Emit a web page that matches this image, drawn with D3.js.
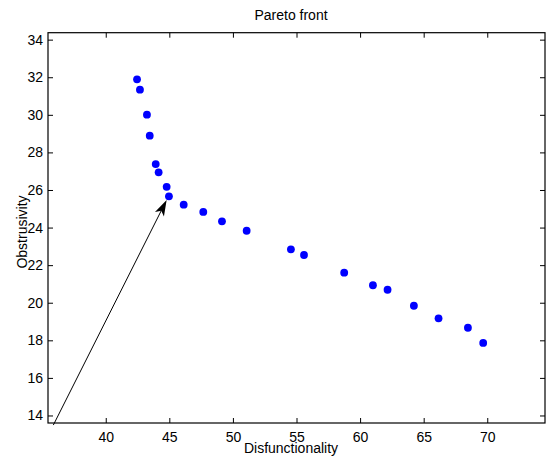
<!DOCTYPE html>
<html>
<head>
<meta charset="utf-8">
<script src="https://cdnjs.cloudflare.com/ajax/libs/d3/7.8.5/d3.min.js"></script>
<style>
  body { margin: 0; background: #fff; }
  text { font-family: "Liberation Sans", Arial, Helvetica, sans-serif; }
  .axis text { font-size: 14px; fill: #000; }
  .axis line { stroke: #000; }
</style>
</head>
<body>
<script>
// pareto front points
var disfunc = [42.46, 42.69, 43.24, 43.46, 43.93, 44.16, 44.79, 44.97, 46.13, 47.67, 49.14, 51.08,
               54.56, 55.59, 58.75, 61.01, 62.16, 64.23, 66.17, 68.48, 69.68];
var obstr = [31.89, 31.34, 30.01, 28.89, 27.38, 26.94, 26.17, 25.66, 25.22, 24.83, 24.33, 23.83,
             22.84, 22.54, 21.60, 20.93, 20.69, 19.84, 19.17, 18.67, 17.86];
var xTicks = [40, 45, 50, 55, 60, 65, 70];
var yTicks = [14, 16, 18, 20, 22, 24, 26, 28, 30, 32, 34];
// arrow annotation: tail -> head
var arrowFrom = [35.88, 13.49];
var arrowTo = [44.79, 25.47];

var w = 547;
var h = 456;
var margin = {top: 32.7, bottom: 33, left: 48, right: 2};

var x = d3.scaleLinear()
        .domain([35.46, 74.54])
        .range([margin.left, w - margin.right]);

var y = d3.scaleLinear()
        .domain([13.6, 34.37])
        .range([h - margin.bottom, margin.top]);

var svg = d3.select("body").append("svg")
          .attr("width", w)
          .attr("height", h);

var pts = disfunc.map(function(d, i){ return {x: d, y: obstr[i]}; });

// ticks pointing inward on all four sides
svg.append("g")
    .attr("class", "axis")
    .attr("transform", "translate(0," + (h - margin.bottom) + ")")
    .call(d3.axisBottom(x).tickValues(xTicks).tickSizeInner(-5).tickSizeOuter(0).tickPadding(9))
    .select(".domain").remove();

svg.append("g")
    .attr("class", "axis")
    .attr("transform", "translate(0," + margin.top + ")")
    .call(d3.axisTop(x).tickValues(xTicks).tickSizeInner(-5).tickSizeOuter(0).tickFormat(""))
    .select(".domain").remove();

svg.append("g")
    .attr("class", "axis")
    .attr("transform", "translate(" + margin.left + ",0)")
    .call(d3.axisLeft(y).tickValues(yTicks).tickSizeInner(-5).tickSizeOuter(0).tickPadding(5))
    .select(".domain").remove();

svg.append("g")
    .attr("class", "axis")
    .attr("transform", "translate(" + (w - margin.right) + ",0)")
    .call(d3.axisRight(y).tickValues(yTicks).tickSizeInner(-5).tickSizeOuter(0).tickFormat(""))
    .select(".domain").remove();

// box
svg.append("rect")
    .attr("x", margin.left)
    .attr("y", margin.top)
    .attr("width", w - margin.left - margin.right)
    .attr("height", h - margin.top - margin.bottom)
    .attr("fill", "none")
    .attr("stroke", "#000")
    .attr("stroke-width", 1.2);

svg.selectAll(".dot")
    .data(pts)
    .enter()
        .append("circle")
        .attr("class", "dot")
        .attr("cx", function(d){ return x(d.x); })
        .attr("cy", function(d){ return y(d.y); })
        .attr("r", 3.9)
        .attr("fill", "#0000ff");

// arrow
var x0 = x(arrowFrom[0]), y0 = y(arrowFrom[1]);
var x1 = x(arrowTo[0]), y1 = y(arrowTo[1]);
var len = Math.sqrt((x1 - x0) * (x1 - x0) + (y1 - y0) * (y1 - y0));
var ux = (x1 - x0) / len, uy = (y1 - y0) / len;
var nx = -uy, ny = ux;
var L = 16, N = 12, hw = 5;

svg.append("line")
    .attr("x1", x0).attr("y1", y0)
    .attr("x2", x1 - ux * N).attr("y2", y1 - uy * N)
    .attr("stroke", "#000")
    .attr("stroke-width", 1);

svg.append("path")
    .attr("d", "M" + x1 + "," + y1 +
               "L" + (x1 - ux * L + nx * hw) + "," + (y1 - uy * L + ny * hw) +
               "L" + (x1 - ux * N) + "," + (y1 - uy * N) +
               "L" + (x1 - ux * L - nx * hw) + "," + (y1 - uy * L - ny * hw) + "Z")
    .attr("fill", "#000");

// labels
svg.append("text")
    .attr("x", 291)
    .attr("y", 20)
    .attr("text-anchor", "middle")
    .style("font-size", "14px")
    .text("Pareto front");

svg.append("text")
    .attr("x", 291)
    .attr("y", 452.5)
    .attr("text-anchor", "middle")
    .style("font-size", "14px")
    .text("Disfunctionality");

svg.append("text")
    .attr("transform", "translate(27,232) rotate(-90)")
    .attr("text-anchor", "middle")
    .style("font-size", "14px")
    .text("Obstrusivity");
</script>
</body>
</html>
